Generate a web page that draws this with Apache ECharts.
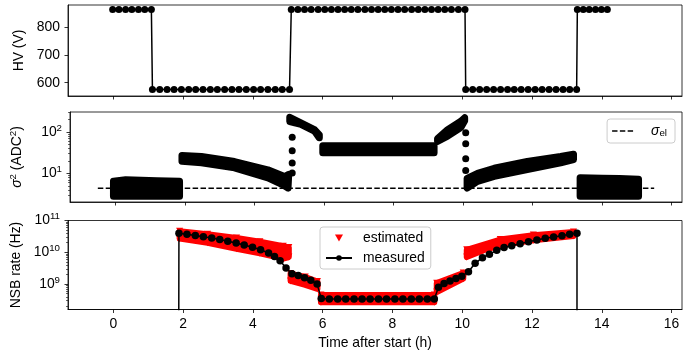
<!DOCTYPE html>
<html>
<head>
<meta charset="utf-8">
<script src="https://cdn.jsdelivr.net/npm/echarts@6/dist/echarts.min.js"></script>
<style>
  html, body { margin: 0; padding: 0; background: #fff; }
  #chart { width: 697px; height: 353px; }
</style>
</head>
<body>
<div id="chart"></div>
<script>
// top panel: HV setting (V)
const hvTime = [
  -0.02, 0.16, 0.35, 0.53, 0.72, 0.90, 1.09,
  1.12, 1.33, 1.54, 1.74, 1.95, 2.16, 2.36, 2.57, 2.78, 2.98, 3.19, 3.40, 3.60, 3.81, 4.02, 4.22, 4.43, 4.64, 4.84, 5.05,
  5.10, 5.29, 5.48, 5.67, 5.87, 6.06, 6.25, 6.44, 6.63, 6.82, 7.01, 7.21, 7.40, 7.59, 7.78, 7.97, 8.16, 8.35, 8.55, 8.74, 8.93, 9.12, 9.31, 9.50, 9.69, 9.89, 10.08,
  10.10, 10.30, 10.50, 10.70, 10.90, 11.10, 11.30, 11.49, 11.69, 11.89, 12.09, 12.29, 12.49, 12.69, 12.89, 13.08, 13.28,
  13.30, 13.47, 13.64, 13.82, 13.99, 14.16
];
const hvVolt = [
  864, 864, 864, 864, 864, 864, 864,
  575, 575, 575, 575, 575, 575, 575, 575, 575, 575, 575, 575, 575, 575, 575, 575, 575, 575, 575, 575,
  864, 864, 864, 864, 864, 864, 864, 864, 864, 864, 864, 864, 864, 864, 864, 864, 864, 864, 864, 864, 864, 864, 864, 864, 864, 864, 864,
  575, 575, 575, 575, 575, 575, 575, 575, 575, 575, 575, 575, 575, 575, 575, 575, 575,
  864, 864, 864, 864, 864, 864
];

// middle panel: sigma^2 (ADC^2), dense point clouds given by upper / lower edge
const sigmaUpper = [
  [[-0.05, 6.5], [0.3, 7.0], [1.2, 6.6], [1.85, 6.5]],
  [[1.92, 27.2], [2.48, 25.7], [3.43, 19.4], [4.39, 12.2], [4.87, 8.4], [4.99, 9.5]],
  [[5.02, 229], [5.34, 167], [5.73, 115], [5.87, 86]],
  [[5.97, 46.9], [9.17, 46.9]],
  [[9.27, 70], [9.56, 115], [9.94, 183], [10.05, 223]],
  [[10.12, 7.6], [10.42, 10.0], [10.9, 13.3], [11.85, 19.4], [12.81, 25.7], [13.18, 29.2]],
  [[13.37, 7.8], [14.0, 7.6], [14.5, 7.5], [15.05, 7.2]]
];
const sigmaLower = [
  [[-0.05, 2.8], [1.85, 2.8]],
  [[1.92, 19.7], [2.48, 18.0], [3.43, 13.6], [4.39, 7.8], [4.82, 5.3], [4.97, 4.4]],
  [[5.02, 180], [5.34, 155], [5.73, 106], [5.87, 72.6]],
  [[5.97, 31.6], [9.17, 31.6]],
  [[9.27, 60], [9.56, 80.4], [9.94, 129], [10.05, 189]],
  [[10.12, 4.4], [10.42, 6.4], [10.9, 8.5], [11.85, 12.4], [12.81, 18.0], [13.18, 21.7]],
  [[13.37, 2.8], [15.05, 2.8]]
];
const sigmaJumpTime = [5.09, 5.09, 5.09, 5.09, 10.08, 10.08, 10.08, 10.08];
const sigmaJumpValue = [75.6, 35.5, 17.8, 10.2, 96, 52.6, 22.7, 11.8];
const sigmaElTime = [-0.5, 15.5];
const sigmaElValue = [4.37, 4.37];

// bottom panel: NSB rate (Hz)
const nsbTime = [
  1.87, 1.88, 2.11, 2.35, 2.58, 2.82, 3.05, 3.28, 3.52, 3.75, 3.99, 4.22, 4.45, 4.62, 4.78, 4.95,
  5.12, 5.30, 5.48, 5.66, 5.84,
  5.96, 6.19, 6.43, 6.66, 6.90, 7.13, 7.36, 7.60, 7.83, 8.07, 8.30, 8.54, 8.77, 9.00, 9.20,
  9.32, 9.48, 9.65, 9.82, 9.99,
  10.18, 10.37, 10.58, 10.78, 10.99, 11.20, 11.42, 11.66, 11.90, 12.14, 12.38, 12.62, 12.86, 13.08, 13.29, 13.29
];
const nsbMeasured = [
  1e5, 3.98e10, 3.72e10, 3.39e10, 3.09e10, 2.82e10, 2.51e10, 2.24e10, 1.95e10, 1.70e10, 1.45e10, 1.20e10, 9.5e9, 7.4e9, 5.4e9, 3.2e9,
  2.1e9, 1.86e9, 1.58e9, 1.32e9, 1.0e9,
  3.5e8, 3.4e8, 3.4e8, 3.4e8, 3.4e8, 3.4e8, 3.4e8, 3.4e8, 3.4e8, 3.4e8, 3.4e8, 3.4e8, 3.4e8, 3.4e8, 3.4e8,
  7.9e8, 1.05e9, 1.26e9, 1.51e9, 1.78e9,
  2.45e9, 4.5e9, 6.8e9, 8.7e9, 1.15e10, 1.41e10, 1.62e10, 1.86e10, 2.14e10, 2.45e10, 2.75e10, 3.02e10, 3.31e10, 3.72e10, 3.98e10, 1e5
];
const estUpper = [
  [[1.9, 4.57e10], [2.7, 3.72e10], [3.53, 2.82e10], [4.2, 2.14e10], [4.87, 1.55e10], [5.03, 1.41e10]],
  [[5.08, 2.14e9], [5.5, 1.66e9], [5.85, 1.2e9]],
  [[5.95, 4.57e8], [9.2, 4.57e8]],
  [[9.27, 1.07e9], [10.03, 2.24e9]],
  [[10.13, 1.2e10], [11.09, 2.51e10], [12.04, 3.47e10], [13.19, 4.37e10]]
];
const estLower = [
  [[1.9, 2.69e10], [2.7, 2.0e10], [3.53, 1.29e10], [4.2, 9.3e9], [4.87, 6.3e9], [5.03, 7.1e9]],
  [[5.08, 1.26e9], [5.5, 9.5e8], [5.85, 7.1e8]],
  [[5.95, 2.7e8], [9.2, 2.7e8]],
  [[9.27, 5.6e8], [10.03, 1.48e9]],
  [[10.13, 7.1e9], [10.6, 1.15e10], [11.09, 1.66e10], [12.04, 2.4e10], [13.19, 3.24e10]]
];

// ticks
const timeTicks = [0, 2, 4, 6, 8, 10, 12, 14, 16];
const hvTicks = [600, 700, 800];
const sigmaTicks = [10, 100];
const sigmaMinor = [3, 4, 5, 6, 7, 8, 9, 20, 30, 40, 50, 60, 70, 80, 90, 200, 300];
const nsbTicks = [1e9, 1e10, 1e11];
const nsbMinor = [2e8, 3e8, 4e8, 5e8, 6e8, 7e8, 8e8, 9e8, 2e9, 3e9, 4e9, 5e9, 6e9, 7e9, 8e9, 9e9,
  2e10, 3e10, 4e10, 5e10, 6e10, 7e10, 8e10, 9e10];

const FONT = "'Liberation Sans', Arial, sans-serif";
const FS = 13.9;

const chart = echarts.init(document.getElementById("chart"));

const gridTops = [5, 112, 220.5];
const gridHeights = [91, 90, 89];

const xAxisFor = (i) => ({
  type: "value",
  gridIndex: i,
  min: -1.3,
  max: 16.3,
  splitLine: { show: false },
  axisLine: { onZero: false, lineStyle: { color: "#000", width: 0.8 } },
  axisTick: { customValues: timeTicks, length: 3.5, lineStyle: { color: "#000", width: 0.8 } },
  axisLabel: {
    show: i === 2,
    customValues: timeTicks,
    color: "#000",
    fontSize: FS,
    fontFamily: FONT,
    margin: 8,
  },
  name: i === 2 ? "Time after start (h)" : "",
  nameLocation: "middle",
  nameGap: 27,
  nameTextStyle: { color: "#000", fontSize: FS, fontFamily: FONT },
});

const powLabel = (v) => "{b|10}{s|" + Math.round(Math.log10(v)) + "}";
const powRich = {
  b: { fontSize: FS, fontFamily: FONT, color: "#000", lineHeight: 18 },
  s: { fontSize: 9.7, fontFamily: FONT, color: "#000", verticalAlign: "top", lineHeight: 10 },
};

const logMajor = (grid, min, max, ticks, name, nameRich) => ({
  type: "log",
  gridIndex: grid,
  position: "left",
  min: min,
  max: max,
  splitLine: { show: false },
  minorTick: { show: false },
  axisLine: { onZero: false, lineStyle: { color: "#000", width: 0.8 } },
  axisTick: { customValues: ticks, length: 3.5, lineStyle: { color: "#000", width: 0.8 } },
  axisLabel: { customValues: ticks, formatter: powLabel, rich: powRich, margin: 8 },
  name: name,
  nameLocation: "middle",
  nameRotate: 90,
  nameGap: 44,
  nameTextStyle: { color: "#000", fontSize: FS, fontFamily: FONT, rich: nameRich },
});

// second axis on the same grid, only for the small log ticks
const logMinor = (grid, min, max, ticks) => ({
  type: "log",
  gridIndex: grid,
  position: "left",
  min: min,
  max: max,
  splitLine: { show: false },
  axisLine: { show: false, onZero: false },
  axisLabel: { show: false },
  axisTick: { customValues: ticks, length: 2, lineStyle: { color: "#000", width: 0.6 } },
});

const bandRender = (upper, lower, color, width) => (params, api) => {
  const i = api.value(2);
  const pts = upper[i].concat(lower[i].slice().reverse()).map((p) => api.coord(p));
  return {
    type: "polygon",
    shape: { points: pts },
    style: { fill: color, stroke: color, lineWidth: width, lineJoin: "round" },
  };
};

const legendBox = {
  backgroundColor: "rgba(255,255,255,0.8)",
  borderColor: "#cccccc",
  borderWidth: 1,
  borderRadius: 3,
};

const option = {
  animation: false,
  textStyle: { fontFamily: FONT },
  grid: gridTops.map((t, i) => ({
    left: 68,
    right: 15,
    top: t,
    height: gridHeights[i],
    show: true,
    borderColor: "#000",
    borderWidth: 0.8,
    backgroundColor: "transparent",
  })),
  xAxis: [xAxisFor(0), xAxisFor(1), xAxisFor(2)],
  yAxis: [
    {
      type: "value",
      gridIndex: 0,
      position: "left",
      min: 552,
      max: 880,
      splitLine: { show: false },
      axisLine: { onZero: false, lineStyle: { color: "#000", width: 0.8 } },
      axisTick: { customValues: hvTicks, length: 3.5, lineStyle: { color: "#000", width: 0.8 } },
      axisLabel: { customValues: hvTicks, color: "#000", fontSize: FS, fontFamily: FONT, margin: 8 },
      name: "HV (V)",
      nameLocation: "middle",
      nameRotate: 90,
      nameGap: 42,
      nameTextStyle: { color: "#000", fontSize: FS, fontFamily: FONT },
    },
    logMajor(1, 2.03, 307, sigmaTicks, "{i|σ}{s|2} (ADC{s|2})", {
      i: { fontSize: FS, fontFamily: FONT, fontStyle: "italic", color: "#000", lineHeight: 18 },
      s: { fontSize: 9.7, fontFamily: FONT, color: "#000", verticalAlign: "top", lineHeight: 10 },
    }),
    logMinor(1, 2.03, 307, sigmaMinor),
    logMajor(2, 1.59e8, 1e11, nsbTicks, "NSB rate (Hz)", null),
    logMinor(2, 1.59e8, 1e11, nsbMinor),
  ],
  legend: [
    Object.assign({
      data: [{
        name: "sigma_el",
        icon: "path://M0,0h5.5v1.5h-5.5z M7.9,0h5.5v1.5h-5.5z M15.8,0h5.5v1.5h-5.5z",
        itemStyle: { color: "#000" },
      }],
      right: 22,
      top: 119,
      orient: "vertical",
      itemWidth: 21,
      itemHeight: 10,
      padding: [5, 8, 5, 5],
      formatter: () => "{i|σ}{e|el}",
      textStyle: {
        rich: {
          i: { fontSize: FS, fontFamily: FONT, fontStyle: "italic", color: "#000", padding: [0, 0, 0, 13] },
          e: { fontSize: 9.7, fontFamily: FONT, color: "#000", verticalAlign: "bottom", lineHeight: 12 },
        },
      },
    }, legendBox),
    Object.assign({
      data: [
        { name: "estimated", icon: "path://M0,0L10,0L5,8.7Z", itemStyle: { color: "#ff0000", opacity: 1 } },
        "measured",
      ],
      left: 320,
      top: 227,
      orient: "vertical",
      itemWidth: 26,
      itemHeight: 7,
      itemGap: 6,
      padding: [4, 6, 4, 5],
      textStyle: { color: "#000", fontSize: FS, fontFamily: FONT, padding: [0, 0, 0, 6] },
    }, legendBox),
  ],
  series: [
    {
      type: "line",
      xAxisIndex: 0,
      yAxisIndex: 0,
      data: hvTime.map((t, i) => [t, hvVolt[i]]),
      symbol: "circle",
      symbolSize: 7,
      showAllSymbol: true,
      color: "#000",
      lineStyle: { color: "#000", width: 1.5 },
      itemStyle: { color: "#000" },
    },
    {
      type: "custom",
      xAxisIndex: 1,
      yAxisIndex: 1,
      clip: true,
      data: sigmaUpper.map((u, i) => [u[0][0], u[0][1], i]),
      renderItem: bandRender(sigmaUpper, sigmaLower, "#000", 7),
    },
    {
      type: "scatter",
      xAxisIndex: 1,
      yAxisIndex: 1,
      data: sigmaJumpTime.map((t, i) => [t, sigmaJumpValue[i]]),
      symbol: "circle",
      symbolSize: 7,
      itemStyle: { color: "#000", opacity: 1 },
    },
    {
      name: "sigma_el",
      type: "line",
      xAxisIndex: 1,
      yAxisIndex: 1,
      data: sigmaElTime.map((t, i) => [t, sigmaElValue[i]]),
      symbol: "none",
      color: "#000",
      lineStyle: { color: "#000", width: 1.5, type: [5.5, 2.4] },
    },
    {
      type: "custom",
      xAxisIndex: 2,
      yAxisIndex: 3,
      clip: true,
      data: estUpper.map((u, i) => [u[0][0], u[0][1], i]),
      renderItem: bandRender(estUpper, estLower, "#ff0000", 6),
    },
    {
      name: "estimated",
      type: "scatter",
      xAxisIndex: 2,
      yAxisIndex: 3,
      data: estUpper.flat().concat(estLower.flat()),
      symbol: "triangle",
      symbolRotate: 180,
      symbolSize: 7,
      itemStyle: { color: "#ff0000", opacity: 1 },
    },
    {
      name: "measured",
      type: "line",
      xAxisIndex: 2,
      yAxisIndex: 3,
      data: nsbTime.map((t, i) => [t, nsbMeasured[i]]),
      symbol: "circle",
      symbolSize: 7.5,
      showAllSymbol: true,
      clip: true,
      color: "#000",
      lineStyle: { color: "#000", width: 1.5 },
      itemStyle: { color: "#000" },
    },
  ],
};

chart.setOption(option);
</script>
</body>
</html>
